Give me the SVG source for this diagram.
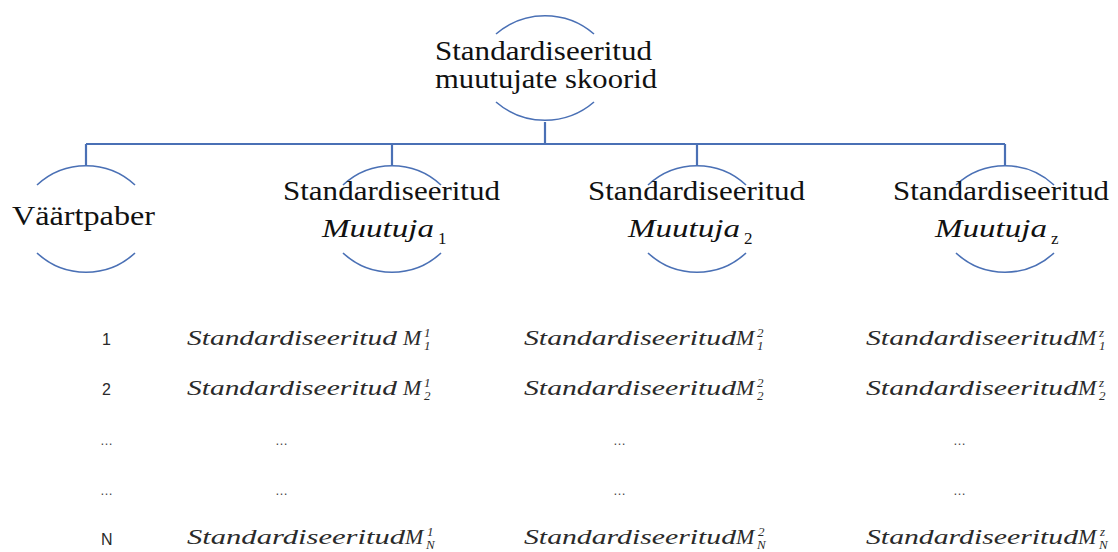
<svg xmlns="http://www.w3.org/2000/svg" width="1118" height="552" viewBox="0 0 1118 552">
<style>
.arc{fill:none;stroke:#4a70b5;stroke-width:1.6}
.con{fill:none;stroke:#4a70b5;stroke-width:2.2}
.t{font-family:"Liberation Serif",serif;font-size:27px;fill:#111}
.mi{font-family:"Liberation Serif",serif;font-style:italic;font-size:26px;fill:#111}
.ms{font-family:"Liberation Serif",serif;font-size:17px;fill:#111}
.r{font-family:"Liberation Serif",serif;font-style:italic;font-size:21px;fill:#2a2a2a}
.rm{font-family:"Liberation Serif",serif;font-style:italic;font-size:22px;fill:#2a2a2a}
.ri{font-family:"Liberation Serif",serif;font-style:italic;font-size:13px;fill:#2a2a2a}
.rn{font-family:"Liberation Sans",sans-serif;font-size:16px;fill:#2a2a2a}
.d{font-family:"Liberation Sans",sans-serif;font-size:13px;fill:#444}
</style>
<g id="connectors">
<path class="con" d="M545,122 V144 M86,144 H1005 M86,144 V166 M392,144 V166 M697,144 V166 M1005,144 V166"/>
</g>
<g id="root">
<path class="arc" d="M496,34 A75,75 0 0,1 594,34"/>
<path class="arc" d="M496,102 A75,75 0 0,0 594,102"/>
<text class="t" x="435" y="60" textLength="217" lengthAdjust="spacingAndGlyphs">Standardiseeritud</text>
<text class="t" x="435" y="88" textLength="222" lengthAdjust="spacingAndGlyphs">muutujate skoorid</text>
</g>
<g id="vaartpaber">
<path class="arc" d="M37,185 A72,72 0 0,1 135,185"/>
<path class="arc" d="M37,253 A72,72 0 0,0 135,253"/>
<text class="t" x="12" y="225" textLength="143" lengthAdjust="spacingAndGlyphs">Väärtpaber</text>
</g>
<g id="muutuja1">
<path class="arc" d="M343,185 A72,72 0 0,1 441,185"/>
<path class="arc" d="M343,253 A72,72 0 0,0 441,253"/>
<text class="t" x="283" y="200" textLength="217" lengthAdjust="spacingAndGlyphs">Standardiseeritud</text>
<text class="mi" x="322" y="237" textLength="112" lengthAdjust="spacingAndGlyphs">Muutuja</text>
<text class="ms" x="438" y="244">1</text>
</g>
<g id="muutuja2">
<path class="arc" d="M648,185 A72,72 0 0,1 746,185"/>
<path class="arc" d="M648,253 A72,72 0 0,0 746,253"/>
<text class="t" x="588" y="200" textLength="217" lengthAdjust="spacingAndGlyphs">Standardiseeritud</text>
<text class="mi" x="628" y="237" textLength="112" lengthAdjust="spacingAndGlyphs">Muutuja</text>
<text class="ms" x="744" y="244">2</text>
</g>
<g id="muutujaz">
<path class="arc" d="M956,185 A72,72 0 0,1 1054,185"/>
<path class="arc" d="M956,253 A72,72 0 0,0 1054,253"/>
<text class="t" x="893" y="200" textLength="216" lengthAdjust="spacingAndGlyphs">Standardiseeritud</text>
<text class="mi" x="935" y="237" textLength="112" lengthAdjust="spacingAndGlyphs">Muutuja</text>
<text class="ms" x="1051" y="244">z</text>
</g>
<g id="rows">
<text class="rn" x="102" y="345">1</text>
<text class="rn" x="102" y="395">2</text>
<text class="d" x="100" y="445">…</text>
<text class="d" x="100" y="495">…</text>
<text class="rn" x="101" y="545">N</text>

<text class="r" x="187" y="345" textLength="210" lengthAdjust="spacingAndGlyphs">Standardiseeritud</text>
<text class="rm" x="403" y="345">M</text>
<text class="ri" x="424" y="337">1</text><text class="ri" x="424" y="350">1</text>
<text class="r" x="187" y="395" textLength="210" lengthAdjust="spacingAndGlyphs">Standardiseeritud</text>
<text class="rm" x="403" y="395">M</text>
<text class="ri" x="424" y="387">1</text><text class="ri" x="424" y="400">2</text>
<text class="d" x="275" y="445">…</text>
<text class="d" x="275" y="495">…</text>
<text class="r" x="187" y="544" textLength="218" lengthAdjust="spacingAndGlyphs">Standardiseeritud</text>
<text class="rm" x="405" y="544">M</text>
<text class="ri" x="427" y="536">1</text><text class="ri" x="426" y="549">N</text>

<text class="r" x="524" y="345" textLength="212" lengthAdjust="spacingAndGlyphs">Standardiseeritud</text>
<text class="rm" x="736" y="345">M</text>
<text class="ri" x="757" y="337">2</text><text class="ri" x="757" y="350">1</text>
<text class="r" x="524" y="395" textLength="212" lengthAdjust="spacingAndGlyphs">Standardiseeritud</text>
<text class="rm" x="736" y="395">M</text>
<text class="ri" x="757" y="387">2</text><text class="ri" x="757" y="400">2</text>
<text class="d" x="613" y="445">…</text>
<text class="d" x="613" y="495">…</text>
<text class="r" x="524" y="544" textLength="212" lengthAdjust="spacingAndGlyphs">Standardiseeritud</text>
<text class="rm" x="736" y="544">M</text>
<text class="ri" x="758" y="536">2</text><text class="ri" x="757" y="549">N</text>

<text class="r" x="866" y="345" textLength="212" lengthAdjust="spacingAndGlyphs">Standardiseeritud</text>
<text class="rm" x="1078" y="345">M</text>
<text class="ri" x="1099" y="337">z</text><text class="ri" x="1099" y="350">1</text>
<text class="r" x="866" y="395" textLength="212" lengthAdjust="spacingAndGlyphs">Standardiseeritud</text>
<text class="rm" x="1078" y="395">M</text>
<text class="ri" x="1099" y="387">z</text><text class="ri" x="1099" y="400">2</text>
<text class="d" x="953" y="445">…</text>
<text class="d" x="953" y="495">…</text>
<text class="r" x="866" y="544" textLength="212" lengthAdjust="spacingAndGlyphs">Standardiseeritud</text>
<text class="rm" x="1078" y="544">M</text>
<text class="ri" x="1100" y="536">z</text><text class="ri" x="1099" y="549">N</text>
</g>
</svg>
